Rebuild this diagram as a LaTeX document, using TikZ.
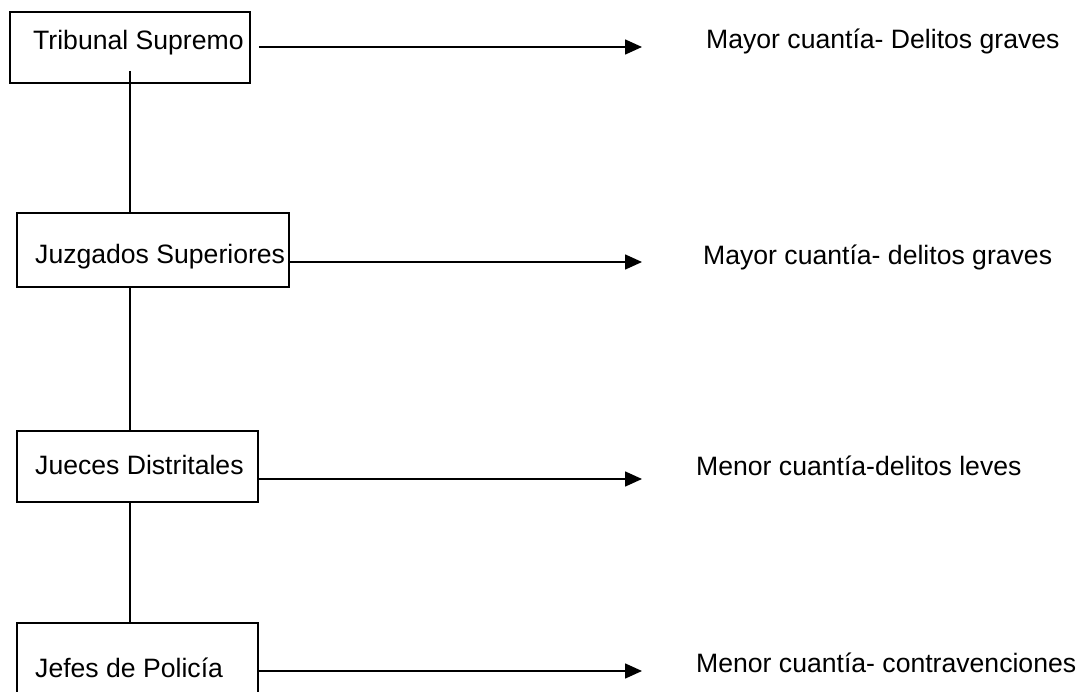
\documentclass[tikz,border=0pt]{standalone}
\usepackage{fontspec}
\setmainfont{Liberation Sans}
\usepackage{tikz}
\usetikzlibrary{arrows.meta,calc,positioning}

\tikzset{
  caja/.style={draw, line width=1.6pt, rectangle, inner sep=0pt},
  texto/.style={anchor=base west, inner sep=0pt, font=\fontsize{26.6}{32}\selectfont},
  flecha/.style={line width=1.6pt, -{Triangle[length=17pt,width=15pt]}},
  tronco/.style={line width=1.6pt}
}

\begin{document}
\begin{tikzpicture}[x=1pt,y=-1pt]

\useasboundingbox (0,0) rectangle (1079,692);
\clip (0,0) rectangle (1079,692);

% cajas
\node[caja, minimum width=240, minimum height=71] (ts) at (130,47.5) {};
\node[caja, minimum width=272, minimum height=74] (js) at (153,250) {};
\node[caja, minimum width=241, minimum height=71] (jd) at (137.5,466.5) {};
\node[caja, minimum width=241, minimum height=71] (jp) at (137.5,658.5) {};

\node[texto] (ts-t) at (33,50) {Tribunal Supremo};
\node[texto] (js-t) at (35,264) {Juzgados Superiores};
\node[texto] (jd-t) at (35,474) {Jueces Distritales};
\node[texto] (jp-t) at (35,677) {Jefes de Policía};

% linea vertical
\draw[tronco] ($(ts.south)+(0,-13)$) -- (ts.south |- js.north);
\draw[tronco] (ts.south |- js.south) -- (ts.south |- jd.north);
\draw[tronco] (ts.south |- jd.south) -- (ts.south |- jp.north);

% flechas
\coordinate (a1) at (642,47);
\coordinate (a2) at (642,262);
\coordinate (a3) at (642,479);
\coordinate (a4) at (642,671);
\draw[flecha] ($(ts.east |- a1)+(8,0)$) -- (a1);
\draw[flecha] (js.east |- a2) -- (a2);
\draw[flecha] (jd.east |- a3) -- (a3);
\draw[flecha] (jp.east |- a4) -- (a4);

% texto
\node[texto] (c1) at (706,49) {Mayor cuantía- Delitos graves};
\node[texto] (c2) at (703,265) {Mayor cuantía- delitos graves};
\node[texto] (c3) at (696,475) {Menor cuantía-delitos leves};
\node[texto] (c4) at (696,672) {Menor cuantía- contravenciones};

\end{tikzpicture}
\end{document}
